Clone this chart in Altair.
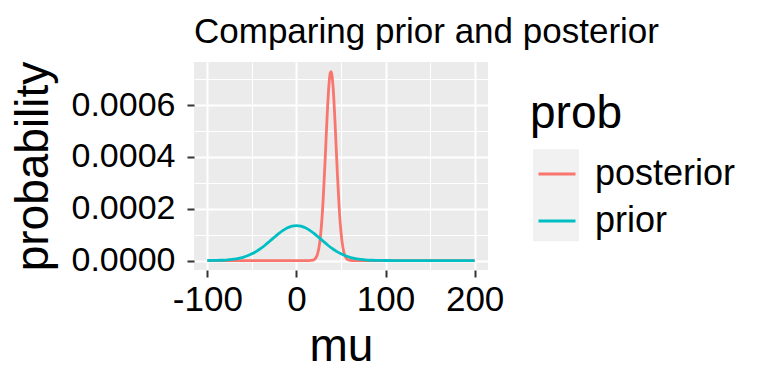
import altair as alt
import pandas as pd

FONT = "Liberation Sans"

# prior: mu grid and probability
prior_mu = [-100, -95, -90, -85, -80, -75, -70, -65, -60, -55, -50, -45, -40, -35, -30, -25, -20, -15, -10, -5,
            0, 5, 10, 15, 20, 25, 30, 35, 40, 45, 50, 55, 60, 65, 70, 75, 80, 85, 90, 95, 100, 110, 120, 150, 200]
prior_p = [1.8e-7, 3.5e-7, 6.4e-7, 1.1e-6, 2.0e-6, 3.3e-6, 5.3e-6, 8.3e-6, 1.25e-5, 1.83e-5, 2.59e-5, 3.54e-5,
           4.69e-5, 6.01e-5, 7.45e-5, 8.93e-5, 1.036e-4, 1.163e-4, 1.264e-4, 1.328e-4,
           1.350e-4, 1.328e-4, 1.264e-4, 1.163e-4, 1.036e-4, 8.93e-5, 7.45e-5, 6.01e-5, 4.69e-5, 3.54e-5,
           2.59e-5, 1.83e-5, 1.25e-5, 8.3e-6, 5.3e-6, 3.3e-6, 2.0e-6, 1.1e-6, 6.4e-7, 3.5e-7, 1.8e-7, 0, 0, 0, 0]

# posterior
post_mu = [-100, -50, 0, 10, 14, 16, 18, 20, 22, 24, 26, 28, 30, 32, 34, 35, 36, 37, 38, 39, 40, 41, 42, 43,
           44, 46, 48, 50, 52, 54, 56, 58, 60, 62, 64, 70, 100, 150, 200]
post_p = [0, 0, 0, 0, 0, 3.4e-7, 1.25e-6, 4.0e-6, 1.16e-5, 2.94e-5, 6.64e-5, 1.331e-4, 2.370e-4, 3.746e-4,
          5.257e-4, 5.96e-4, 6.550e-4, 6.99e-4, 7.247e-4, 7.29e-4, 7.119e-4, 6.75e-4, 6.209e-4, 5.55e-4,
          4.809e-4, 3.306e-4, 2.018e-4, 1.094e-4, 5.27e-5, 2.25e-5, 8.5e-6, 2.9e-6, 8.6e-7, 2.3e-7, 0, 0, 0, 0, 0]

series = ["posterior", "prior"]
colors = ["#F8766D", "#00BFC4"]

df = pd.concat([
    pd.DataFrame({"mu": post_mu, "probability": post_p, "prob": series[0]}),
    pd.DataFrame({"mu": prior_mu, "probability": prior_p, "prob": series[1]}),
], ignore_index=True)
df["key"] = df["prob"]

xscale = alt.Scale(domain=[-115, 215], nice=False, zero=False)
yscale = alt.Scale(domain=[-0.0000365, 0.0007665], nice=False, zero=False)
cscale = alt.Scale(domain=series, range=colors)

color_legend = alt.Legend(
    orient="none", legendX=336, legendY=30, symbolType="stroke", symbolSize=1369,
    symbolStrokeWidth=2.8, title="prob", titleFontSize=46, titleFont=FONT, titleFontWeight="normal",
    titleColor="black", labelFontSize=36, labelFont=FONT, labelColor="black", padding=0,
    titlePadding=16, rowPadding=9, labelOffset=18, symbolOffset=7, zindex=1,
)

x_minor = alt.Axis(orient="bottom", values=[-50, 50, 150], grid=True, gridColor="white", gridWidth=1,
                   ticks=False, labels=False, domain=False, title=None)
y_minor = alt.Axis(orient="left", values=[0.0001, 0.0003, 0.0005, 0.0007], grid=True, gridColor="white",
                   gridWidth=1, ticks=False, labels=False, domain=False, title=None)

x_major = alt.Axis(orient="bottom", values=[-100, 0, 100, 200], labelExpr="datum.value + ''",
                   grid=True, gridColor="white", gridWidth=2, domain=False,
                   tickColor="#333333", tickSize=7, tickWidth=2, labelFontSize=35, labelFont=FONT,
                   labelColor="black", labelPadding=5, title="mu", titleFontSize=46, titleFont=FONT,
                   titleFontWeight="normal", titleColor="black", titleBaseline="alphabetic", titleY=90)
y_major = alt.Axis(orient="left", values=[0, 0.0002, 0.0004, 0.0006], format=".4f",
                   grid=True, gridColor="white", gridWidth=2, domain=False,
                   tickColor="#333333", tickSize=7, tickWidth=2, labelFontSize=34, labelFont=FONT,
                   labelColor="black", labelPadding=12, title="probability", titleFontSize=46,
                   titleFont=FONT, titleFontWeight="normal", titleColor="black",
                   titleBaseline="alphabetic", titleAngle=270, titleX=-147)

base = alt.Chart(df)

post_layer = base.transform_filter(alt.datum.prob == series[0]).mark_line(
    strokeWidth=2.8, interpolate="monotone"
).encode(
    x=alt.X("mu:Q", scale=xscale, axis=x_minor),
    y=alt.Y("probability:Q", scale=yscale, axis=y_minor),
    color=alt.Color("prob:N", scale=cscale, legend=color_legend),
)

prior_layer = base.transform_filter(alt.datum.prob == series[1]).mark_line(
    strokeWidth=2.8, interpolate="monotone"
).encode(
    x=alt.X("mu:Q", scale=xscale, axis=x_major),
    y=alt.Y("probability:Q", scale=yscale, axis=y_major),
    color=alt.Color("prob:N", scale=cscale, legend=color_legend),
)

key_layer = base.mark_square(size=0).encode(
    x=alt.X("mu:Q", scale=xscale, axis=None),
    y=alt.Y("probability:Q", scale=yscale, axis=None),
    fill=alt.Fill("key:N", scale=alt.Scale(range=["#EBEBEB", "#EBEBEB"]),
                  legend=alt.Legend(orient="none", legendX=339, legendY=87.3, symbolType="square",
                                    symbolSize=2116, symbolStrokeWidth=0, title=None, labelOpacity=0,
                                    labelFontSize=1, padding=0, rowPadding=0, zindex=0)),
)

chart = alt.layer(post_layer, prior_layer, key_layer).resolve_axis(
    x="independent", y="independent"
).properties(
    width=294, height=208, autosize="none", background="white",
    padding={"left": 186, "top": 54, "right": 272, "bottom": 106},
    title=alt.TitleParams(text="Comparing prior and posterior", anchor="start", frame="group",
                          fontSize=35, font=FONT, fontWeight="normal", color="black",
                          baseline="top", offset=11),
).configure_view(fill="#EBEBEB", strokeWidth=0)

chart.save("out.html", embed_options={"renderer": "svg", "actions": False})
